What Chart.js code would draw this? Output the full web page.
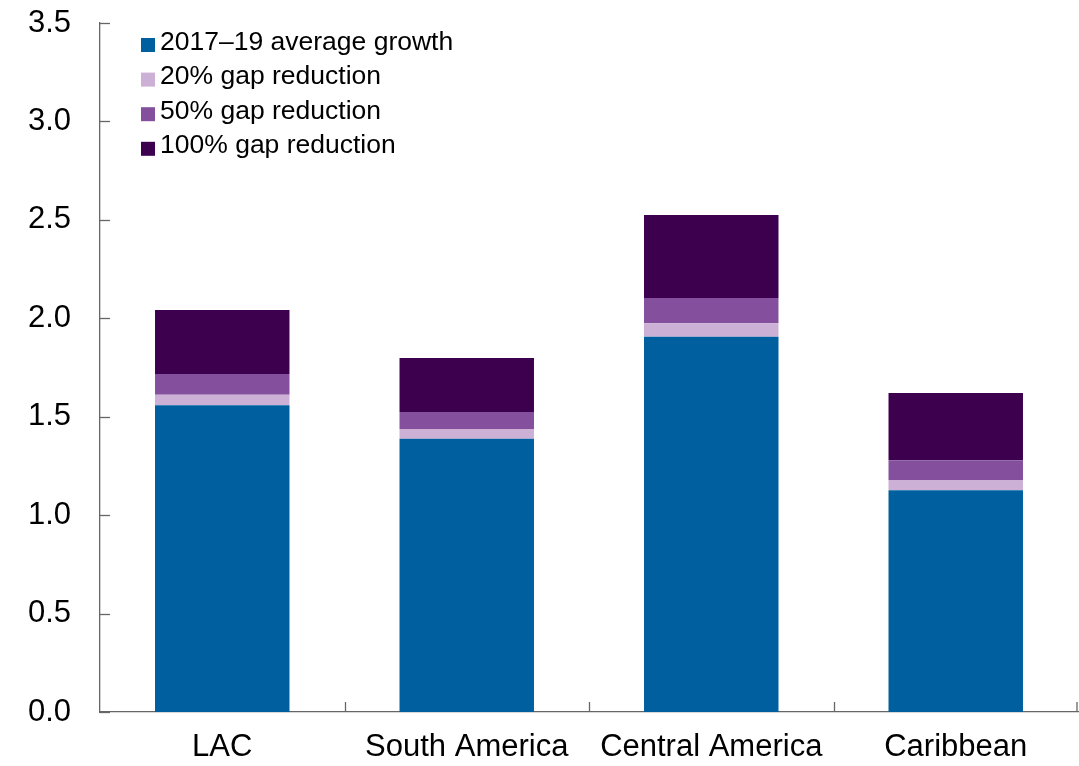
<!DOCTYPE html>
<html>
<head>
<meta charset="utf-8">
<script src="https://cdn.jsdelivr.net/npm/chart.js@4/dist/chart.umd.min.js"></script>
<style>
html,body{margin:0;padding:0;background:#fff;}
#wrap{width:1079px;height:766px;position:relative;}
</style>
</head>
<body>
<div id="wrap"><canvas id="c" width="1079" height="766"></canvas></div>
<script>
const categories = ["LAC", "South America", "Central America", "Caribbean"];
const seriesNames = ["2017\u201319 average growth", "20% gap reduction", "50% gap reduction", "100% gap reduction"];
const avgGrowth = [1.558, 1.388, 1.906, 1.126];
const gap20 = [0.054, 0.050, 0.069, 0.053];
const gap50 = [0.105, 0.086, 0.128, 0.100];
const gap100 = [0.325, 0.274, 0.422, 0.341];
const yTicks = [0, 0.5, 1.0, 1.5, 2.0, 2.5, 3.0, 3.5];

const colors = ["#00609f", "#cdb0d6", "#84509e", "#3d004f"];
const FONT = "'Liberation Sans', Arial, sans-serif";
const AXIS = "#666666";

const axisPlugin = {
  id: 'axisTicks',
  afterDraw(chart) {
    const ctx = chart.ctx;
    const ca = chart.chartArea;
    const y = chart.scales.y, x = chart.scales.x;
    ctx.save();
    ctx.strokeStyle = AXIS;
    ctx.lineWidth = 1.3;
    yTicks.forEach(v => {
      const py = Math.round(y.getPixelForValue(v)) + 0.5;
      ctx.beginPath(); ctx.moveTo(ca.left, py); ctx.lineTo(ca.left + 10, py); ctx.stroke();
    });
    const n = categories.length;
    for (let i = 1; i <= n; i++) {
      const px = i === n ? ca.right - 1 : Math.round((x.getPixelForValue(i - 1) + x.getPixelForValue(i)) / 2) + 0.5;
      ctx.beginPath(); ctx.moveTo(px, ca.bottom); ctx.lineTo(px, ca.bottom - 10); ctx.stroke();
    }
    ctx.font = "26.5px " + FONT;
    ctx.textBaseline = 'alphabetic';
    ctx.textAlign = 'left';
    chart.data.datasets.forEach((ds, i) => {
      const top = 38 + i * 34.6;
      ctx.fillStyle = ds.backgroundColor;
      ctx.fillRect(141, top, 14, 14);
      ctx.fillStyle = '#000';
      ctx.fillText(ds.label, 160, top + 11.5);
    });
    ctx.restore();
  }
};

new Chart(document.getElementById('c'), {
  type: 'bar',
  data: {
    labels: categories,
    datasets: [
      { label: seriesNames[0], data: avgGrowth, backgroundColor: colors[0] },
      { label: seriesNames[1], data: gap20, backgroundColor: colors[1] },
      { label: seriesNames[2], data: gap50, backgroundColor: colors[2] },
      { label: seriesNames[3], data: gap100, backgroundColor: colors[3] }
    ]
  },
  options: {
    responsive: false,
    animation: false,
    layout: { padding: { top: 23, right: 1, left: 0, bottom: 0 } },
    datasets: { bar: { categoryPercentage: 1.0, barPercentage: 0.55, borderWidth: 0 } },
    plugins: { legend: { display: false }, tooltip: { enabled: false } },
    scales: {
      x: {
        stacked: true,
        grid: { display: false, drawTicks: false },
        border: { display: true, color: AXIS, width: 1.3 },
        ticks: { color: '#000', font: { family: FONT, size: 31 }, padding: 17, maxRotation: 0, autoSkip: false },
        afterFit(s) { s.height = 54; s.paddingLeft = 0; s.paddingRight = 0; }
      },
      y: {
        stacked: true,
        min: 0, max: 3.5,
        grid: { display: false, drawTicks: false },
        border: { display: true, color: AXIS, width: 1.3 },
        afterBuildTicks(s) { s.ticks = yTicks.map(v => ({ value: v })); },
        ticks: { color: '#000', font: { family: FONT, size: 31 }, padding: 29, callback: v => Number(v).toFixed(1) },
        afterFit(s) { s.width = 100; s.paddingTop = 0; s.paddingBottom = 0; }
      }
    }
  },
  plugins: [axisPlugin]
});
</script>
</body>
</html>
